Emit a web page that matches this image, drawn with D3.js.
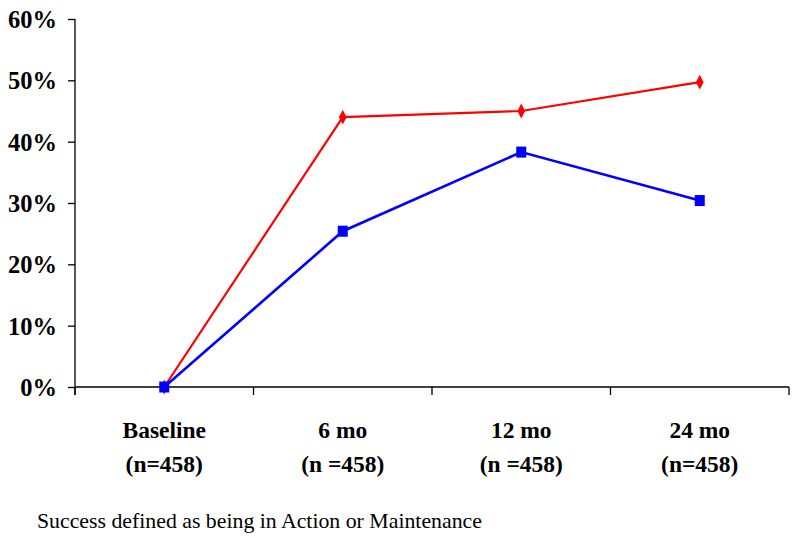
<!DOCTYPE html>
<html><head><meta charset="utf-8">
<script src="https://cdn.jsdelivr.net/npm/d3@7"></script>
<style>body{margin:0;background:#fff}svg{display:block}</style>
</head><body>
<svg id="c" width="800" height="538"></svg>
<script>
const categories = ["Baseline|(n=458)", "6 mo|(n =458)", "12 mo|(n =458)", "24 mo|(n=458)"];
const redSeries = [0, 44.0, 45.0, 49.7];
const blueSeries = [0, 25.4, 38.3, 30.4];
const yTicks = [0, 10, 20, 30, 40, 50, 60];
const caption = "Success defined as being in Action or Maintenance";

const svg = d3.select("#c");
const L = 75, R = 789, T = 19, B = 387;
const x = d3.scaleBand().domain(categories).range([L, R]);
const y = d3.scaleLinear().domain([0, 60]).range([B, T]);
const font = "'Liberation Serif','Times New Roman',serif";

// y axis
const ya = svg.append("g").attr("transform", `translate(${L},0)`)
  .call(d3.axisLeft(y).tickValues(yTicks).tickFormat(d => d + "%").tickSize(7).tickPadding(11));
ya.select(".domain").remove();
ya.selectAll("line").attr("stroke", "#000").attr("stroke-width", 1.3);
ya.selectAll("text").attr("font-family", font).attr("font-weight", "bold").attr("font-size", 24.5).attr("fill", "#000").attr("dy", "0.34em");
svg.append("line").attr("x1", L).attr("x2", L).attr("y1", T).attr("y2", B + 8).attr("stroke", "#000").attr("stroke-width", 1.3);

// x axis
svg.append("line").attr("x1", L).attr("x2", R).attr("y1", B).attr("y2", B).attr("stroke", "#000").attr("stroke-width", 1.3);
const xt = [L, ...categories.map(c => x(c) + x.bandwidth())];
svg.selectAll(".xt").data(xt).enter().append("line")
  .attr("x1", d => d).attr("x2", d => d).attr("y1", B).attr("y2", B + 8)
  .attr("stroke", "#000").attr("stroke-width", 1.3);
const cx = c => x(c) + x.bandwidth() / 2;
const lab = svg.selectAll(".xl").data(categories).enter().append("text")
  .attr("x", d => cx(d)).attr("y", 438)
  .attr("text-anchor", "middle").attr("font-family", font).attr("font-weight", "bold").attr("font-size", 23.5).attr("fill", "#000");
lab.each(function(d) {
  const parts = d.split("|");
  d3.select(this).selectAll("tspan").data(parts).enter().append("tspan")
    .attr("x", cx(d)).attr("dy", (p, i) => i ? 34 : 0).text(p => p);
});

// lines
const line = arr => d3.line().x((v, i) => cx(categories[i])).y(v => y(v))(arr);
svg.append("path").attr("d", line(redSeries)).attr("fill", "none").attr("stroke", "#ff0000").attr("stroke-width", 2.2);
svg.append("path").attr("d", line(blueSeries)).attr("fill", "none").attr("stroke", "#0000ff").attr("stroke-width", 2.6);
svg.selectAll(".rm").data(redSeries).enter().append("path")
  .attr("d", d3.symbol(d3.symbolDiamond, 64)())
  .attr("transform", (v, i) => `translate(${cx(categories[i])},${y(v)}) scale(0.9,1)`)
  .attr("fill", "#ff0000");
svg.selectAll(".bm").data(blueSeries).enter().append("rect")
  .attr("x", (v, i) => cx(categories[i]) - 5).attr("y", v => y(v) - 5.5)
  .attr("width", 10).attr("height", 11).attr("fill", "#0000ff");

svg.append("text").attr("x", 37).attr("y", 528).attr("font-family", font).attr("font-size", 21.8).attr("fill", "#000").text(caption);
</script>
</body></html>
